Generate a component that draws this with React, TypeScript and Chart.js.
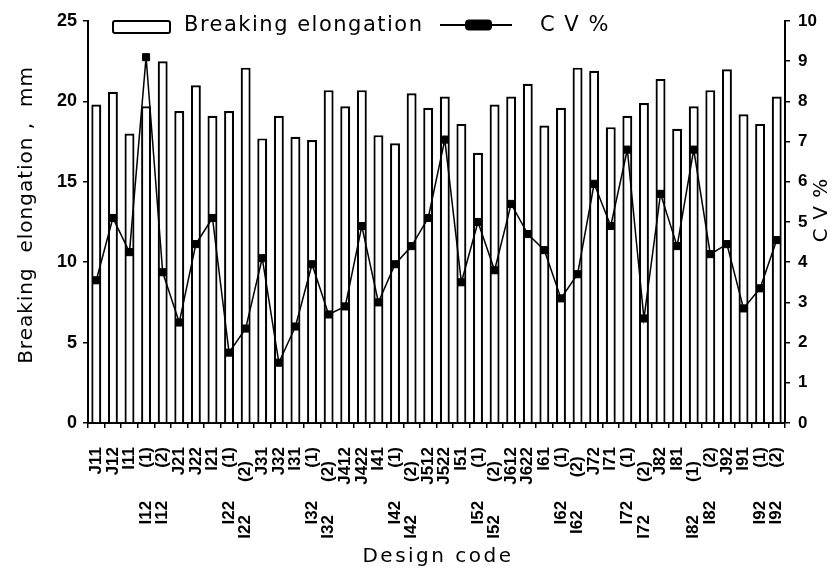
import React, { useEffect, useRef } from 'react';
import { Chart, registerables } from 'chart.js';

Chart.register(...registerables);

// ---- data ----
const topLabels = [
  'J11', 'J12', 'I11', '(1)', '(2)',
  'J21', 'J22', 'I21', '(1)', '(2)',
  'J31', 'J32', 'I31', '(1)', '(2)',
  'J412', 'J422', 'I41', '(1)', '(2)',
  'J512', 'J522', 'I51', '(1)', '(2)',
  'J612', 'J622', 'I61', '(1)', '(2)',
  'J72', 'I71', '(1)', '(2)',
  'J82', 'I81', '(1)', '(2)',
  'J92', 'I91', '(1)', '(2)',
];
const groupLabels = [
  '', '', '', 'I12', 'I12',
  '', '', '', 'I22', 'I22',
  '', '', '', 'I32', 'I32',
  '', '', '', 'I42', 'I42',
  '', '', '', 'I52', 'I52',
  '', '', '', 'I62', 'I62',
  '', '', 'I72', 'I72',
  '', '', 'I82', 'I82',
  '', '', 'I92', 'I92',
];
const breakingElongation = [
  19.8, 20.6, 18.0, 19.7, 22.5,
  19.4, 21.0, 19.1, 19.4, 22.1,
  17.7, 19.1, 17.8, 17.6, 20.7,
  19.7, 20.7, 17.9, 17.4, 20.5,
  19.6, 20.3, 18.6, 16.8, 19.8,
  20.3, 21.1, 18.5, 19.6, 22.1,
  21.9, 18.4, 19.1, 19.9,
  21.4, 18.3, 19.7, 20.7,
  22.0, 19.2, 18.6, 20.3,
];
const cvPercent = [
  3.55, 5.1, 4.25, 9.1, 3.75,
  2.5, 4.45, 5.1, 1.75, 2.35,
  4.1, 1.5, 2.4, 3.95, 2.7,
  2.9, 4.9, 3.0, 3.95, 4.4,
  5.1, 7.05, 3.5, 5.0, 3.8,
  5.45, 4.7, 4.3, 3.1, 3.7,
  5.95, 4.9, 6.8, 2.6,
  5.7, 4.4, 6.8, 4.2,
  4.45, 2.85, 3.35, 4.55,
];

// ---- label layout (style only) ----
const GAP = '       ';
const staggerSpaces: Record<number, string> = { 9: '   ', 14: '   ', 19: '   ', 24: '   ', 29: '  ', 33: '   ', 36: '   ' };
const xLabels = topLabels.map((t, i) =>
  (groupLabels[i] ? groupLabels[i] + GAP : '') + t + (staggerSpaces[i] || '')
);

const decorations = {
  id: 'decorations',
  afterDraw(chart: any) {
    const ctx = chart.ctx as CanvasRenderingContext2D;
    ctx.save();
    // legend: bar
    ctx.lineWidth = 2;
    ctx.strokeStyle = '#000';
    ctx.fillStyle = '#fff';
    ctx.beginPath();
    (ctx as any).roundRect(113, 21, 57, 12, 2);
    ctx.fill();
    ctx.stroke();
    ctx.fillStyle = '#000';
    ctx.font = '21px "DejaVu Sans"';
    (ctx as any).letterSpacing = '1.5px';
    ctx.textBaseline = 'middle';
    ctx.textAlign = 'left';
    ctx.fillText('Breaking elongation', 184, 26);
    // legend: line
    ctx.beginPath();
    ctx.moveTo(440, 25);
    ctx.lineTo(512, 25);
    ctx.stroke();
    ctx.beginPath();
    (ctx as any).roundRect(465, 19.5, 27, 11, 4);
    ctx.fill();
    ctx.fillText('C V %', 540, 26);

    // axis titles
    ctx.font = '20px "DejaVu Sans"';
    (ctx as any).letterSpacing = '1px';
    ctx.textAlign = 'center';
    ctx.save();
    ctx.translate(27, 215);
    ctx.rotate(-Math.PI / 2);
    ctx.fillText('Breaking  elongation ,  mm', 0, 0);
    ctx.restore();
    ctx.save();
    ctx.translate(822, 210);
    ctx.rotate(-Math.PI / 2);
    ctx.fillText('C V %', 0, 0);
    ctx.restore();
    (ctx as any).letterSpacing = '2.5px';
    ctx.fillText('Design code', 438, 557);
    ctx.restore();
  },
};

export default function App() {
  const ref = useRef<HTMLCanvasElement>(null);
  useEffect(() => {
    if (!ref.current) return;
    const chart = new Chart(ref.current, {
      type: 'bar',
      data: {
        labels: xLabels,
        datasets: [
          {
            type: 'line',
            label: 'C V %',
            data: cvPercent,
            yAxisID: 'y1',
            borderColor: '#000',
            backgroundColor: '#000',
            borderWidth: 1.5,
            pointStyle: 'rect',
            pointRadius: 5,
            pointBorderWidth: 1,
            tension: 0,
            order: 0,
          } as any,
          {
            type: 'bar',
            label: 'Breaking elongation',
            data: breakingElongation,
            yAxisID: 'y',
            backgroundColor: '#fff',
            borderColor: '#000',
            borderWidth: 2.2,
            barPercentage: 0.6,
            categoryPercentage: 1,
            order: 1,
          },
        ],
      },
      options: {
        responsive: false,
        animation: false,
        layout: { padding: { top: 21, left: 0, right: 0, bottom: 0 } },
        plugins: { legend: { display: false }, tooltip: { enabled: false } },
        scales: {
          x: {
            grid: { display: true, drawOnChartArea: false, color: '#000', lineWidth: 1.5, tickLength: 5, offset: true },
            border: { display: true, color: '#000', width: 2 },
            ticks: {
              autoSkip: false,
              maxRotation: 90,
              minRotation: 90,
              padding: 19,
              color: '#000',
              font: { family: '"Liberation Sans"', size: 17, weight: 'bold' },
            },
            afterFit: (s: any) => { s.height = 148; },
          },
          y: {
            position: 'left',
            min: 0,
            max: 25,
            ticks: { stepSize: 5, color: '#000', padding: 6, font: { family: '"Liberation Sans"', size: 18, weight: 'bold' } },
            grid: { display: true, drawOnChartArea: false, color: '#000', lineWidth: 1.5, tickLength: 5 },
            border: { display: true, color: '#000', width: 2 },
            afterFit: (s: any) => { s.width = 88; },
          },
          y1: {
            position: 'right',
            min: 0,
            max: 10,
            ticks: { stepSize: 1, color: '#000', padding: 8, font: { family: '"Liberation Sans"', size: 17, weight: 'bold' } },
            grid: { display: true, drawOnChartArea: false, color: '#000', lineWidth: 1.5, tickLength: 5 },
            border: { display: true, color: '#000', width: 2 },
            afterFit: (s: any) => { s.width = 55; },
          },
        },
      },
      plugins: [decorations],
    });
    return () => chart.destroy();
  }, []);
  return (
    <canvas
      ref={ref}
      width={840}
      height={571}
      style={{ position: 'absolute', left: 0, top: 0, display: 'block' }}
    />
  );
}
